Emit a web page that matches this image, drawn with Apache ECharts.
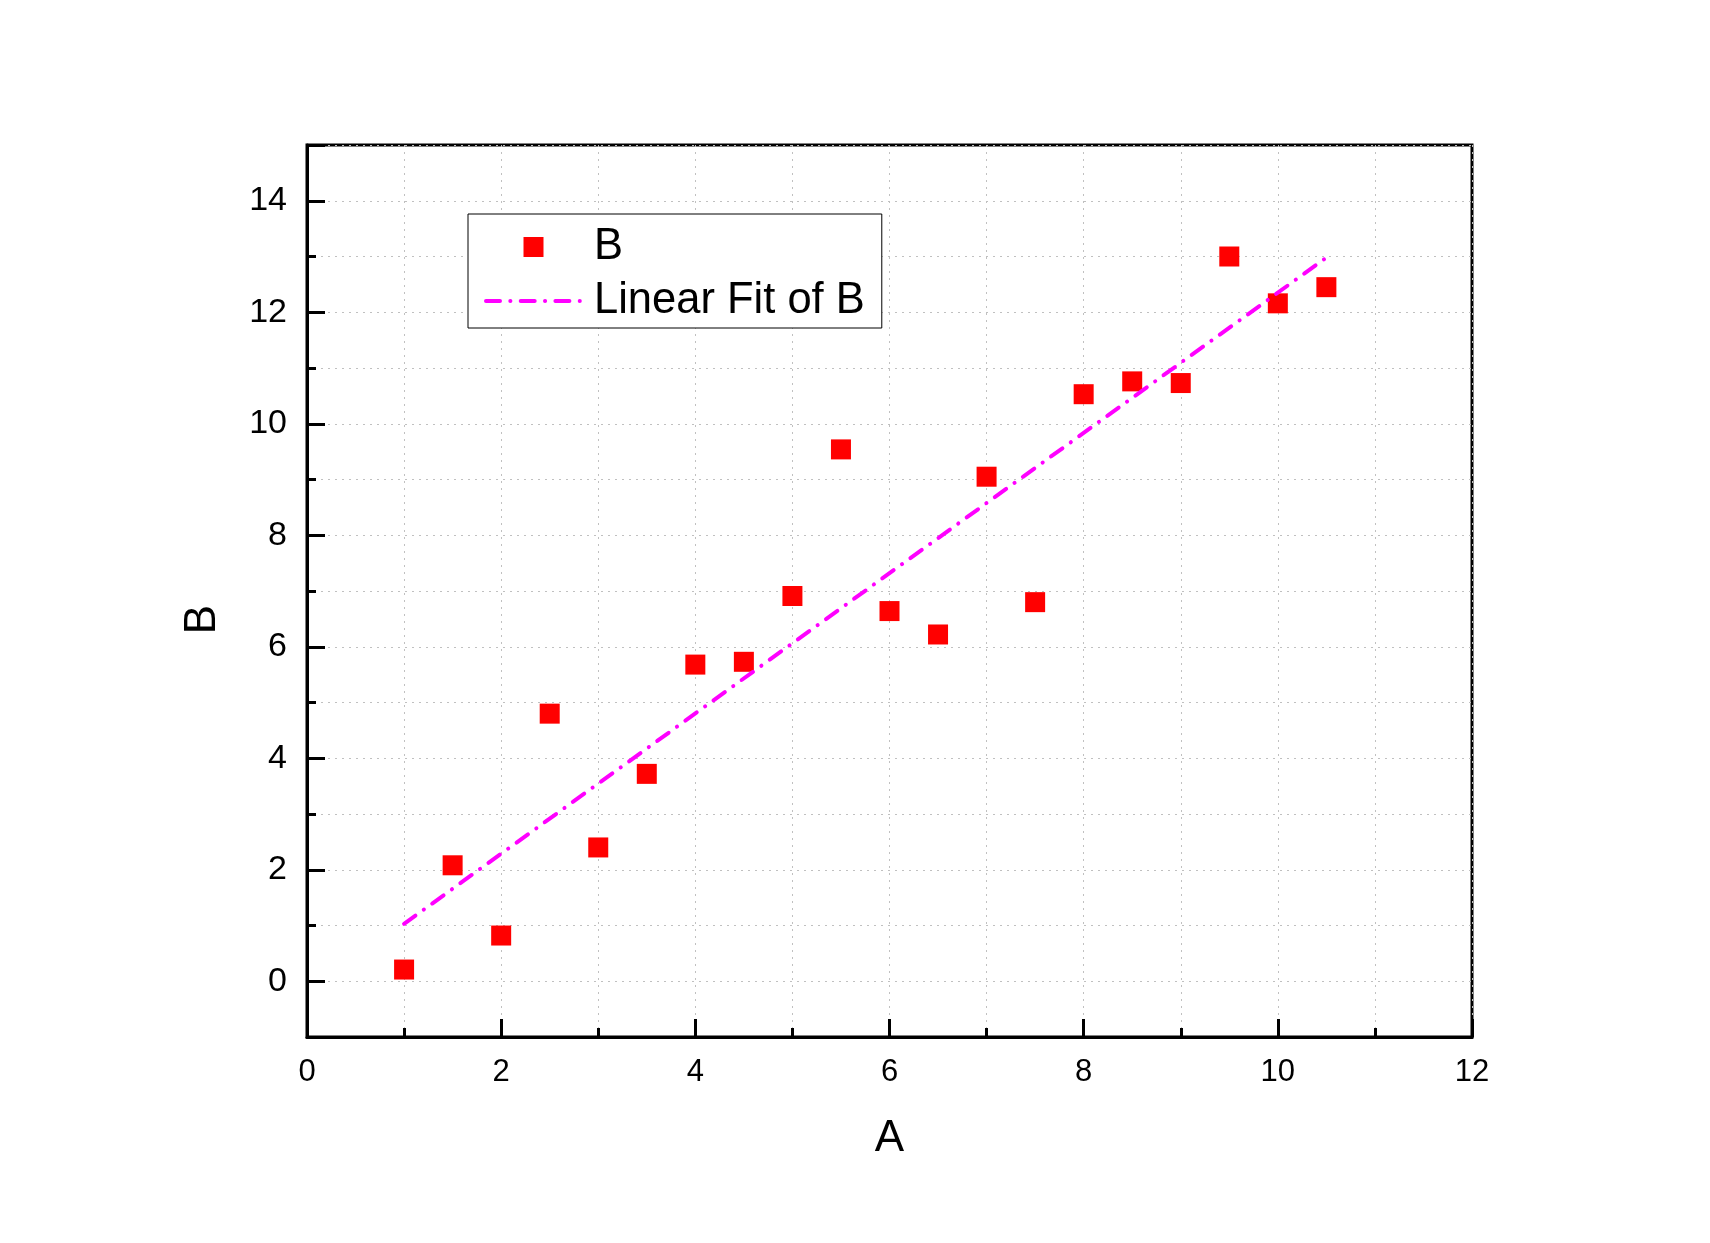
<!DOCTYPE html>
<html>
<head>
<meta charset="utf-8">
<script src="https://cdn.jsdelivr.net/npm/echarts/dist/echarts.min.js"></script>
<style>html,body{margin:0;padding:0;background:#fff}#c{width:1710px;height:1243px}</style>
</head>
<body>
<div id="c"></div>
<script>
// ---- data ----
const xValues = [1, 1.5, 2, 2.5, 3, 3.5, 4, 4.5, 5, 5.5, 6, 6.5, 7, 7.5, 8, 8.5, 9, 9.5, 10, 10.5];
const bValues = [0.21, 2.08, 0.82, 4.80, 2.40, 3.72, 5.68, 5.73, 6.91, 9.54, 6.64, 6.22, 9.05, 6.80, 10.53, 10.76, 10.73, 13.00, 12.16, 12.45];
const fitX = [1, 10.5];
const fitY = [1.03, 12.98];
const xTickLabels = [0, 2, 4, 6, 8, 10, 12];
const yTickLabels = [0, 2, 4, 6, 8, 10, 12, 14];
const seriesNames = ['B', 'Linear Fit of B'];
const axisNames = ['A', 'B'];

const FONT = "'Liberation Sans', Arial, sans-serif";
const chart = echarts.init(document.getElementById('c'), null, {renderer: 'canvas'});

const scatterData = xValues.map((x, i) => [x, bValues[i]]);
const fitData = fitX.map((x, i) => [x, fitY[i]]);
const fitDash = [14, 10.3, 0.1, 10.3];
const gridLine = {show: true, lineStyle: {color: '#c0c0c0', width: 1, type: [2, 5]}};

chart.setOption({
  animation: false,
  backgroundColor: '#fff',
  grid: {left: 307, right: 238, top: 145, bottom: 206, show: true, borderColor: '#000', borderWidth: 3, backgroundColor: 'transparent'},
  xAxis: {
    type: 'value', min: 0, max: 12, interval: 2,
    name: axisNames[0], nameLocation: 'middle', nameGap: 80,
    nameTextStyle: {fontSize: 44, color: '#000', fontFamily: FONT},
    axisLine: {show: true, onZero: false, lineStyle: {color: '#000', width: 3}},
    axisTick: {show: true, inside: true, length: 18, lineStyle: {color: '#000', width: 3}},
    minorTick: {show: true, splitNumber: 2, length: 9, lineStyle: {color: '#000', width: 3}},
    axisLabel: {fontSize: 31, color: '#000', fontFamily: FONT, margin: 20,
      formatter: v => (xTickLabels.indexOf(v) >= 0 ? String(v) : '')},
    splitLine: gridLine,
    minorSplitLine: gridLine
  },
  yAxis: {
    type: 'value', min: -1, max: 15, splitNumber: 8, minInterval: 2, maxInterval: 2,
    name: axisNames[1], nameLocation: 'middle', nameGap: 82,
    nameTextStyle: {fontSize: 44, color: '#000', fontFamily: FONT, padding: [0, 57, 0, 0]},
    axisLine: {show: true, onZero: false, lineStyle: {color: '#000', width: 3}},
    axisTick: {show: true, inside: true, length: 18, lineStyle: {color: '#000', width: 3}},
    minorTick: {show: true, splitNumber: 2, length: 9, lineStyle: {color: '#000', width: 3}},
    axisLabel: {fontSize: 34, color: '#000', fontFamily: FONT, margin: 20, showMinLabel: false, showMaxLabel: false,
      formatter: v => (yTickLabels.indexOf(v) >= 0 ? String(v) : '')},
    splitLine: gridLine,
    minorSplitLine: gridLine
  },
  legend: {
    orient: 'vertical', left: 468, top: 214,
    padding: [11, 17, 5, 16], itemGap: 10,
    itemWidth: 95, itemHeight: 20,
    borderColor: '#000', borderWidth: 1, backgroundColor: '#fff',
    symbolKeepAspect: true,
    textStyle: {fontSize: 43.5, color: '#000', fontFamily: FONT, padding: [0, 0, 0, 8]},
    data: [
      {name: seriesNames[0], icon: 'path://M0,0L10,0L10,10L0,10Z', itemStyle: {color: '#ff0000', opacity: 1}},
      {name: seriesNames[1], itemStyle: {opacity: 0},
       lineStyle: {color: '#ff00ff', width: 4, type: fitDash, cap: 'round'}}
    ]
  },
  series: [
    {
      name: seriesNames[0], type: 'scatter', symbol: 'rect', symbolSize: 20,
      itemStyle: {color: '#ff0000', opacity: 1}, data: scatterData, z: 2
    },
    {
      name: seriesNames[1], type: 'line', symbol: 'none', showSymbol: false,
      lineStyle: {color: '#ff00ff', width: 4, type: fitDash, cap: 'round'},
      itemStyle: {color: '#ff00ff'},
      data: fitData, z: 3
    }
  ]
});
</script>
</body>
</html>
